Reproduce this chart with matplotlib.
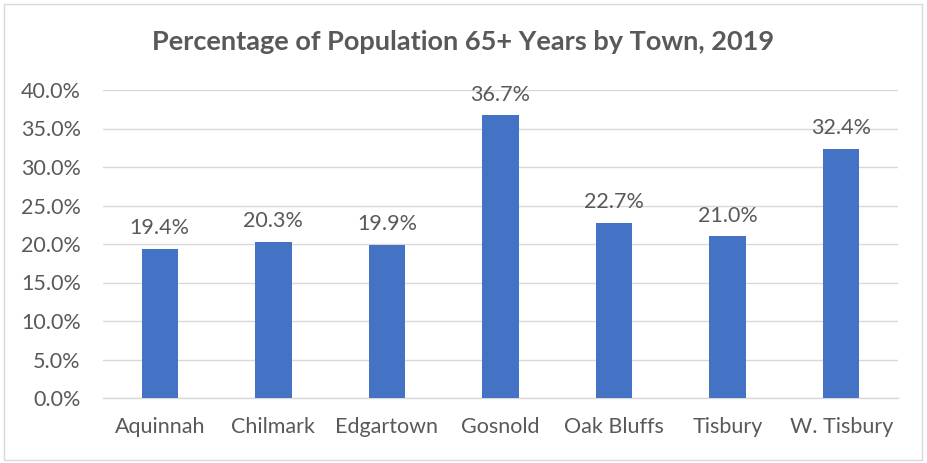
import matplotlib
matplotlib.use("Agg")
import matplotlib.pyplot as plt
from matplotlib.patches import Rectangle
from matplotlib.ticker import FuncFormatter

towns = ["Aquinnah", "Chilmark", "Edgartown", "Gosnold", "Oak Bluffs", "Tisbury", "W. Tisbury"]
pct_65_plus = [19.4, 20.3, 19.9, 36.7, 22.7, 21.0, 32.4]
y_ticks = [0, 5, 10, 15, 20, 25, 30, 35, 40]

TEXT = "#595959"
GRID = "#D9D9D9"
BAR = "#4472C4"

plt.rcParams["font.family"] = ["Lato", "DejaVu Sans"]

fig = plt.figure(figsize=(9.27, 4.63), dpi=100)
ax = fig.add_axes([103 / 927, 1 - 398 / 463, (898 - 103) / 927, (398 - 90) / 463])

x = range(len(towns))
ax.bar(x, pct_65_plus, width=0.32, color=BAR, zorder=3)
for xi, v in zip(x, pct_65_plus):
    ax.text(xi, v + 1.4, f"{v:.1f}%", ha="center", va="bottom", fontsize=15.5, color=TEXT)

ax.set_xlim(-0.5, len(towns) - 0.5)
ax.set_ylim(0, 40)
ax.set_yticks(y_ticks)
ax.yaxis.set_major_formatter(FuncFormatter(lambda v, _: f"{v:.1f}%"))
ax.set_xticks(list(x))
ax.set_xticklabels(towns)
ax.tick_params(axis="both", length=0, labelsize=15.5, labelcolor=TEXT)
ax.tick_params(axis="x", pad=14)
ax.tick_params(axis="y", pad=16)
ax.grid(axis="y", color=GRID, linewidth=1, zorder=0)
for s in ["top", "right", "left"]:
    ax.spines[s].set_visible(False)
ax.spines["bottom"].set_color(GRID)
ax.spines["bottom"].set_linewidth(1)

fig.text(0.5, 1 - 42 / 463, "Percentage of Population 65+ Years by Town, 2019",
         ha="center", va="center", fontsize=19.5, fontweight="bold", color=TEXT)

fig.patches.append(Rectangle((4 / 927, 3 / 463), 918 / 927, 456 / 463, transform=fig.transFigure,
                             fill=False, edgecolor=GRID, linewidth=1))

fig.savefig("out.png", dpi=100)
